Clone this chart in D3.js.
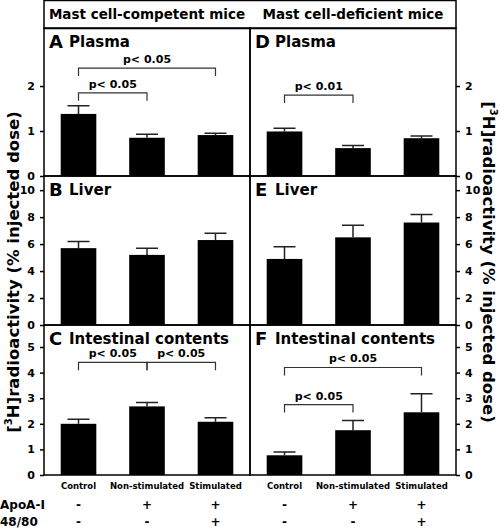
<!DOCTYPE html>
<html><head><meta charset="utf-8">
<script src="https://cdn.jsdelivr.net/npm/d3@7"></script>
<style>body{margin:0;background:#fff}text{font-family:"DejaVu Sans",sans-serif;font-weight:bold}</style>
</head><body><svg id="chart" width="500" height="528"></svg>
<script>
// data
var groups = ["Control", "Non-stimulated", "Stimulated"]
var apoRow = ["-", "+", "+"]
var c4880Row = ["-", "-", "+"]
var plasmaComp = [1.38, 0.85, 0.91], plasmaCompErr = [0.18, 0.08, 0.04]
var plasmaDef = [0.99, 0.62, 0.84], plasmaDefErr = [0.07, 0.06, 0.05]
var liverComp = [5.7, 5.2, 6.3], liverCompErr = [0.5, 0.5, 0.5]
var liverDef = [4.9, 6.5, 7.6], liverDefErr = [0.9, 0.9, 0.6]
var intComp = [2.0, 2.68, 2.08], intCompErr = [0.18, 0.15, 0.16]
var intDef = [0.77, 1.75, 2.45], intDefErr = [0.13, 0.38, 0.72]

var svg = d3.select("#chart")
var L = 44, M = 250, R = 456, top0 = 28
var rows = [
  {y0: 28, y1: 176, max: 3.29, ticks: [0, 1, 2]},
  {y0: 176, y1: 325, max: 11.05, ticks: [0, 2, 4, 6, 8, 10]},
  {y0: 325, y1: 475, max: 5.86, ticks: [0, 1, 2, 3, 4, 5]}
]
var panels = [
  {row: 0, side: 0, letter: "A", title: "Plasma", v: plasmaComp, e: plasmaCompErr, sig: [[0, 1, 1.85, "p< 0.05"], [0, 2, 2.4, "p< 0.05"]]},
  {row: 0, side: 1, letter: "D", title: "Plasma", v: plasmaDef, e: plasmaDefErr, sig: [[0, 1, 1.8, "p< 0.01"]]},
  {row: 1, side: 0, letter: "B", title: "Liver", v: liverComp, e: liverCompErr, sig: []},
  {row: 1, side: 1, letter: "E", title: "Liver", v: liverDef, e: liverDefErr, sig: []},
  {row: 2, side: 0, letter: "C", title: "Intestinal contents", v: intComp, e: intCompErr, sig: [[0, 1, 4.4, "p< 0.05"], [1, 2, 4.4, "p< 0.05"]]},
  {row: 2, side: 1, letter: "F", title: "Intestinal contents", v: intDef, e: intDefErr, sig: [[0, 1, 2.75, "p< 0.05"], [0, 2, 4.2, "p< 0.05"]]}
]

// header
svg.append("rect").attr("x", L).attr("y", 0.5).attr("width", R - L).attr("height", top0)
  .attr("fill", "none").attr("stroke", "#000").attr("stroke-width", 1.5)
svg.append("text").attr("x", (L + M) / 2).attr("y", 19).attr("text-anchor", "middle").attr("font-size", 13.5).text("Mast cell-competent mice")
svg.append("text").attr("x", (M + R) / 2).attr("y", 19).attr("text-anchor", "middle").attr("font-size", 13.5).text("Mast cell-deficient mice")

panels.forEach(function(p) {
  var r = rows[p.row]
  var x0 = p.side ? M : L, x1 = p.side ? R : M
  var x = d3.scaleBand().domain(groups).range([x0 + 3, x1 - 3]).paddingInner(0.48).paddingOuter(0.2)
  var y = d3.scaleLinear().domain([0, r.max]).range([r.y1, r.y0])
  var g = svg.append("g")
  g.append("rect").attr("x", x0).attr("y", r.y0).attr("width", x1 - x0).attr("height", r.y1 - r.y0)
    .attr("fill", "none").attr("stroke", "#000").attr("stroke-width", 1.5)

  // error bars
  g.selectAll(".err").data(p.v).enter().append("path")
    .attr("d", (d, i) => {
      var cx = x(groups[i]) + x.bandwidth() / 2, yt = y(d + p.e[i])
      return `M${cx},${y(d)}V${yt}M${cx - 11},${yt}H${cx + 11}`
    }).attr("stroke", "#222").attr("stroke-width", 1.5).attr("fill", "none")
  g.selectAll(".bar").data(p.v).enter().append("rect")
    .attr("x", (d, i) => x(groups[i])).attr("width", x.bandwidth())
    .attr("y", d => y(d)).attr("height", d => y(0) - y(d)).attr("fill", "#000")

  // significance brackets
  p.sig.forEach(function(s) {
    var a = x(groups[s[0]]) + x.bandwidth() / 2, b = x(groups[s[1]]) + x.bandwidth() / 2, yy = y(s[2])
    g.append("path").attr("d", `M${a},${yy + 8}V${yy}H${b}V${yy + 8}`).attr("fill", "none").attr("stroke", "#333").attr("stroke-width", 1.2)
    g.append("text").attr("x", (a + b) / 2).attr("y", yy - 5).attr("text-anchor", "middle").attr("font-size", 11).text(s[3])
  })

  g.append("text").attr("x", x0 + 5).attr("y", r.y0 + 20).attr("font-size", 18).text(p.letter)
  g.append("text").attr("x", x0 + 25).attr("y", r.y0 + 19).attr("font-size", 15).text(p.title)

  // axis
  var ax = p.side ? d3.axisRight(y) : d3.axisLeft(y)
  var axg = g.append("g").attr("transform", `translate(${p.side ? R : L},0)`)
    .call(ax.tickValues(r.ticks).tickFormat(d3.format("d")).tickSize(4).tickPadding(5))
  axg.select(".domain").remove()
  axg.selectAll("text").attr("font-size", 11).style("font-family", "DejaVu Sans").style("font-weight", "bold")
  axg.selectAll("line").attr("stroke-width", 1.5)

  if (p.row === 2) {
    groups.forEach(function(gname, i) {
      var cx = x(gname) + x.bandwidth() / 2
      svg.append("text").attr("x", cx).attr("y", 489).attr("text-anchor", "middle").attr("font-size", 8.5).text(gname)
      svg.append("text").attr("x", cx).attr("y", 509).attr("text-anchor", "middle").attr("font-size", 12).text(apoRow[i])
      svg.append("text").attr("x", cx).attr("y", 526).attr("text-anchor", "middle").attr("font-size", 12).text(c4880Row[i])
    })
  }
})

svg.append("text").attr("x", 0).attr("y", 509).attr("font-size", 12).text("ApoA-I")
svg.append("text").attr("x", 0).attr("y", 526).attr("font-size", 12).text("48/80")

function yLabel(tx, cy, rot) {
  var t = svg.append("text").attr("transform", `translate(${tx},${cy}) rotate(${rot})`)
    .attr("text-anchor", "middle").attr("font-size", 16.5)
  t.append("tspan").text("[")
  t.append("tspan").attr("font-size", 10).attr("dy", -7).text("3")
  t.append("tspan").attr("dy", 7).text("H]radioactivity (% injected dose)")
}
yLabel(19, 272, -90)
yLabel(483, 262, 90)
</script></body></html>
